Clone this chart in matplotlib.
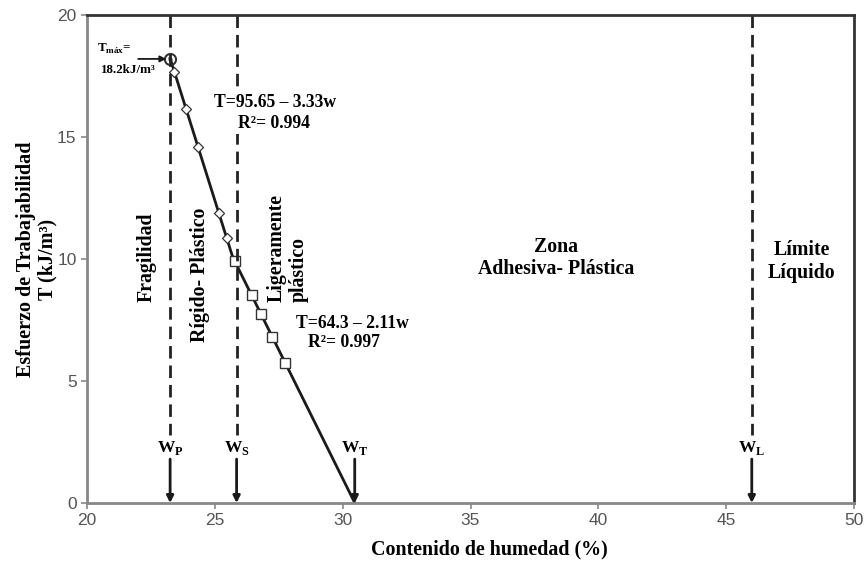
import numpy as np
import matplotlib.pyplot as plt

# Limits of consistency (moisture content, %)
w_p = 23.25
w_s = 25.85
w_t = 30.47
w_l = 46.0
t_max = 18.2

# Regression coefficients for the two branches
a1, b1 = 95.65, 3.33
a2, b2 = 64.3, 2.11

# Measured points (T, kJ/m3)
w_rigid = [23.42, 23.87, 24.34, 25.15, 25.47]
t_rigid = [17.65, 16.15, 14.6, 11.9, 10.85]
w_light = [25.77, 26.44, 26.80, 27.25, 27.75]
t_light = [9.92, 8.52, 7.75, 6.8, 5.74]

serif = 'Liberation Serif'
sans = 'Liberation Sans'

plt.rcParams['mathtext.fontset'] = 'custom'
plt.rcParams['mathtext.rm'] = 'Liberation Serif:bold'
plt.rcParams['mathtext.bf'] = 'Liberation Serif:bold'

fig = plt.figure(figsize=(8.66, 5.68), dpi=100)
ax = fig.add_axes([0.1005, 0.1144, 0.8857, 0.8592])

# fitted line: first branch until it meets the second, then second to T=0
w_cross = (a1 - a2) / (b1 - b2)
ax.plot([w_p, w_cross], [a1 - b1 * w_p, a1 - b1 * w_cross], color='#1a1a1a', lw=2)
ax.plot([w_cross, w_t], [a2 - b2 * w_cross, a2 - b2 * w_t], color='#1a1a1a', lw=2)

ax.plot(w_rigid, t_rigid, 'D', ms=5, mfc='white', mec='#333333', mew=0.9)
ax.plot(w_light, t_light, 's', ms=7, mfc='white', mec='#333333', mew=1.0)
ax.plot([w_p], [t_max], 'o', ms=8, mfc='none', mec='#333333', mew=1.5)
ax.plot([w_p], [t_max], '.', ms=4, color='#333333')

# dashed limit lines, labels and arrows
limits = [(w_p, 'P'), (w_s, 'S'), (w_l, 'L')]
for w, sub in limits:
    ax.plot([w, w], [20, 2.8], color='#222222', lw=2, ls=(0, (4.5, 2.5)))
for w, sub in limits + [(w_t, 'T')]:
    ax.text(w, 2.25, r'W$_{\mathrm{%s}}$' % sub, ha='center', va='center',
            fontsize=12.5, fontweight='bold', family=serif)
    ax.annotate('', xy=(w, 0), xytext=(w, 1.8),
                arrowprops=dict(arrowstyle='-|>', color='#1a1a1a', lw=2,
                                mutation_scale=10, shrinkA=0, shrinkB=0))

# T max annotation
ax.annotate('', xy=(w_p - 0.15, t_max), xytext=(22.0, t_max),
            arrowprops=dict(arrowstyle='-|>', color='#1a1a1a', lw=1.3,
                            mutation_scale=9, shrinkA=0, shrinkB=0))
ax.text(20.4, 18.6, r'T$_{\mathrm{máx}}$=', fontsize=9.4, fontweight='bold',
        family=serif, ha='left', va='center')
ax.text(20.55, 17.75, '18.2kJ/m³', fontsize=9.4, fontweight='bold',
        family=serif, ha='left', va='center')

# regression equations, on a white box so the dashed line breaks behind them
eq = dict(fontsize=12.7, fontweight='bold', family=serif, ha='center', va='center',
          bbox=dict(fc='white', ec='none', pad=1.5), zorder=5)
ax.text(27.35, 16.43, 'T=95.65 – 3.33w', **eq)
ax.text(27.3, 15.57, 'R²= 0.994', **eq)
ax.text(30.37, 7.34, 'T=64.3 – 2.11w', **eq)
ax.text(30.06, 6.56, 'R²= 0.997', **eq)

zone = dict(fontsize=14.3, fontweight='bold', family=serif, ha='center', va='center',
            linespacing=1.15)
ax.text(22.35, 10.08, 'Fragilidad', rotation=90, **zone)
ax.text(24.43, 9.35, 'Rígido- Plástico', rotation=90, **zone)
ax.text(27.85, 10.45, 'Ligeramente\nplástico', rotation=90, multialignment='left',
        **zone)
ax.text(38.33, 10.04, 'Zona\nAdhesiva- Plástica', **zone)
ax.text(47.96, 9.9, 'Límite\nLíquido', **zone)

ax.set_xlim(20, 50)
ax.set_ylim(0, 20)
ax.set_xticks(np.arange(20, 51, 5))
ax.set_yticks(np.arange(0, 21, 5))
ax.tick_params(colors='#888888', labelcolor='#555555', labelsize=12.5,
               length=4, width=1.2)
for lab in ax.get_xticklabels() + ax.get_yticklabels():
    lab.set_family(sans)

for side in ('left', 'bottom'):
    ax.spines[side].set_color('#888888')
    ax.spines[side].set_linewidth(2)
for side in ('top', 'right'):
    ax.spines[side].set_color('#333333')
    ax.spines[side].set_linewidth(2)

ax.set_xlabel('Contenido de humedad (%)', fontsize=14.4, fontweight='bold',
              family=serif)
ax.xaxis.set_label_coords(0.525, -0.075)
ax.set_ylabel('Esfuerzo de Trabajabilidad\nT (kJ/m³)', fontsize=14.5,
              fontweight='bold', family=serif, linespacing=1.1)
ax.yaxis.set_label_coords(-0.038, 0.5)

fig.savefig('out.png', dpi=100)
